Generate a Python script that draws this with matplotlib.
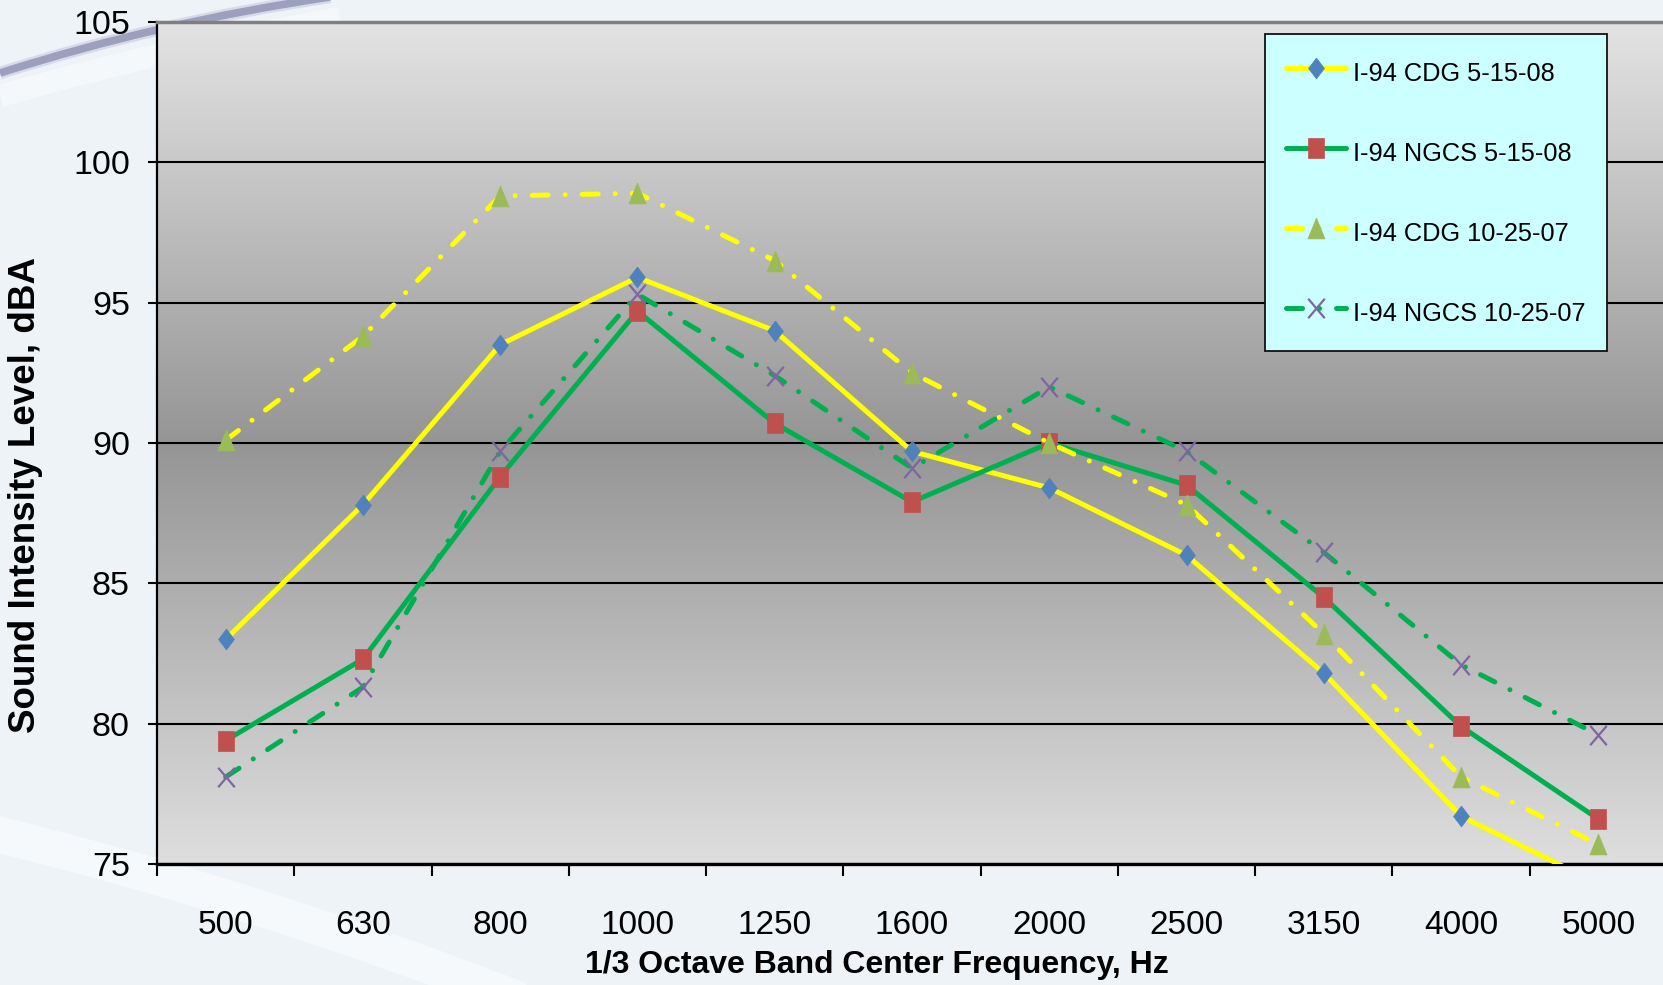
import numpy as np
import matplotlib
matplotlib.use("Agg")
import matplotlib.pyplot as plt
from matplotlib.path import Path
from matplotlib.patches import PathPatch
from matplotlib.font_manager import FontProperties

# ---------------- data ----------------
categories = ["500", "630", "800", "1000", "1250", "1600", "2000", "2500", "3150", "4000", "5000"]
cdg_5_15_08 = [83.0, 87.8, 93.5, 95.9, 94.0, 89.7, 88.4, 86.0, 81.8, 76.7, 74.3]
ngcs_5_15_08 = [79.4, 82.3, 88.8, 94.7, 90.7, 87.9, 90.0, 88.5, 84.5, 79.9, 76.6]
cdg_10_25_07 = [90.1, 93.8, 98.8, 98.9, 96.5, 92.5, 90.0, 87.8, 83.2, 78.1, 75.7]
ngcs_10_25_07 = [78.1, 81.3, 89.7, 95.3, 92.4, 89.1, 92.0, 89.7, 86.1, 82.1, 79.6]
series_labels = ["I-94 CDG 5-15-08", "I-94 NGCS 5-15-08", "I-94 CDG 10-25-07", "I-94 NGCS 10-25-07"]
y_ticks = [75, 80, 85, 90, 95, 100, 105]
x_label = "1/3 Octave Band Center Frequency, Hz"
y_label = "Sound Intensity Level, dBA"

FONT = ["Liberation Sans", "DejaVu Sans"]

W, H = 1663, 985
fig = plt.figure(figsize=(W / 100, H / 100), dpi=100, facecolor="#eef3f8")

# ---------------- decorative background ----------------
bg = fig.add_axes([0, 0, 1, 1], zorder=-10)
bg.set_xlim(0, W)
bg.set_ylim(H, 0)
bg.axis("off")

def curve(p0, p1, p2):
    return Path([p0, p1, p2], [Path.MOVETO, Path.CURVE3, Path.CURVE3])

bg.add_patch(PathPatch(curve((0, 96), (160, 50), (340, 18)), fc="none", ec="white", lw=16, alpha=0.45))
bg.add_patch(PathPatch(curve((0, 73), (160, 22), (330, -3)), fc="none", ec="#c9cce0", lw=9, alpha=0.6))
bg.add_patch(PathPatch(curve((0, 73), (160, 22), (330, -3)), fc="none", ec="#9ca0bc", lw=5.5))
bg.add_patch(PathPatch(curve((-20, 830), (250, 895), (520, 1000)), fc="none", ec="white", lw=26, alpha=0.5))

# ---------------- main axes ----------------
ax = fig.add_axes([157 / W, 1 - 864 / H, 1510 / W, (864 - 22) / H])
x = np.arange(len(categories))

# gradient plot-area fill
t = np.linspace(1, 0, 300)
top_c, mid_c, bot_c = 227, 149, 222
vals = np.where(t >= 0.5, mid_c + (top_c - mid_c) * (t - 0.5) / 0.5,
                mid_c + (bot_c - mid_c) * (0.5 - t) / 0.5) / 255.0
grad = np.repeat(vals[:, None], 3, axis=1)[:, None, :]
ax.imshow(grad, extent=(-0.5, 10.5, 75, 105), aspect="auto", origin="upper", zorder=0)
ax.patch.set_visible(False)

diamond = [(0, 1), (0.76, 0), (0, -1), (-0.76, 0), (0, 1)]
square = [(-0.85, -1), (0.85, -1), (0.85, 1), (-0.85, 1), (-0.85, -1)]
triangle = [(0, 1), (0.82, -1), (-0.82, -1), (0, 1)]
cross = Path([(-0.85, -1), (0.85, 1), (-0.85, 1), (0.85, -1)],
             [Path.MOVETO, Path.LINETO, Path.MOVETO, Path.LINETO])

dashdot = (0, (3.2, 3.4, 0.01, 3.4))
lw = 3.6
ax.plot(x, cdg_5_15_08, color="#ffff00", lw=lw, solid_capstyle="round",
        marker=diamond, ms=15, mfc="#4f81bd", mec="#4f81bd", mew=0.5,
        label=series_labels[0], zorder=3)
ax.plot(x, ngcs_5_15_08, color="#00b050", lw=lw, solid_capstyle="round",
        marker=square, ms=14, mfc="#c0504d", mec="#c0504d", mew=0.5,
        label=series_labels[1], zorder=3)
ax.plot(x, cdg_10_25_07, color="#ffff00", lw=lw, linestyle=dashdot, dash_capstyle="round",
        marker=triangle, ms=15, mfc="#9bbb59", mec="#9bbb59", mew=0.5,
        label=series_labels[2], zorder=3)
ax.plot(x, ngcs_10_25_07, color="#00b050", lw=lw, linestyle=dashdot, dash_capstyle="round",
        marker=cross, ms=14, mfc="none", mec="#8064a2", mew=1.6,
        label=series_labels[3], zorder=3)

ax.set_xlim(-0.5, 10.5)
ax.set_ylim(75, 105)

# axes styling
ax.set_yticks(y_ticks)
ax.set_yticklabels([str(v) for v in y_ticks])
ax.yaxis.grid(True, color="black", lw=1.5)
ax.tick_params(axis="y", direction="out", length=6.5, width=1.5, pad=13, labelsize=24.5)
ax.set_xticks(x)
ax.set_xticklabels(categories)
ax.set_xticks(np.arange(-0.5, 10.6, 1.0), minor=True)
ax.tick_params(axis="x", which="major", length=0, pad=33, labelsize=24)
ax.tick_params(axis="x", which="minor", direction="out", length=8.5, width=1.5)
for lab in ax.get_xticklabels() + ax.get_yticklabels():
    lab.set_fontfamily(FONT)

ax.spines["right"].set_visible(False)
ax.spines["top"].set_color("#7f7f7f")
ax.spines["top"].set_linewidth(2.5)
ax.spines["left"].set_linewidth(1.6)
ax.spines["bottom"].set_linewidth(2.4)

fig.text(877 / W, 1 - 965 / H, x_label, ha="center", va="center",
         fontsize=23, fontweight="bold", family=FONT)
fig.text(26 / W, 1 - 495 / H, y_label, ha="center", va="center", rotation=90,
         fontsize=26.5, fontweight="bold", family=FONT)

leg = ax.legend(loc="upper left", bbox_to_anchor=(1265 / W, 1 - 34 / H),
                bbox_transform=fig.transFigure, borderaxespad=0,
                prop=FontProperties(family=FONT, size=18.3),
                frameon=True, fancybox=False, framealpha=1,
                facecolor="#ccffff", edgecolor="#111111",
                borderpad=0.83, handlelength=2.35, handletextpad=0.3,
                handleheight=1.7, labelspacing=1.8, numpoints=1)
leg.get_frame().set_linewidth(1.3)
leg.set_zorder(10)

fig.savefig("out.png", dpi=100, facecolor=fig.get_facecolor())
